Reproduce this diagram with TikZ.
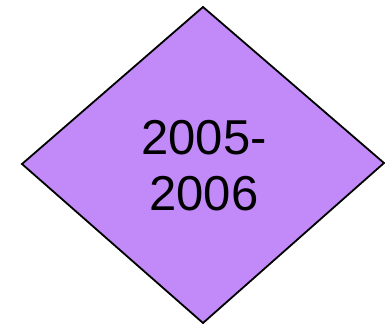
\documentclass[tikz,border=0pt]{standalone}
\usepackage{fontspec}
\setmainfont{Liberation Sans}
\definecolor{dfill}{RGB}{193,138,248}
\tikzset{dia/.style={draw=black,line width=1.8pt,fill=dfill,line join=miter},
lbl/.style={align=center,font=\fontsize{49}{56}\selectfont,inner sep=0pt}}
\begin{document}
\begin{tikzpicture}[x=1pt,y=1pt]
\useasboundingbox (0,0) rectangle (385,326);
\coordinate (t) at (203,319);
\coordinate (l) at (22,162);
\coordinate (b) at (203,3);
\coordinate (r) at (384,163);
\draw[dia] (t) -- (l) -- (b) -- (r) -- cycle;
\node[lbl] (txt) at (204,160) {2005-\\2006};
\end{tikzpicture}
\end{document}
